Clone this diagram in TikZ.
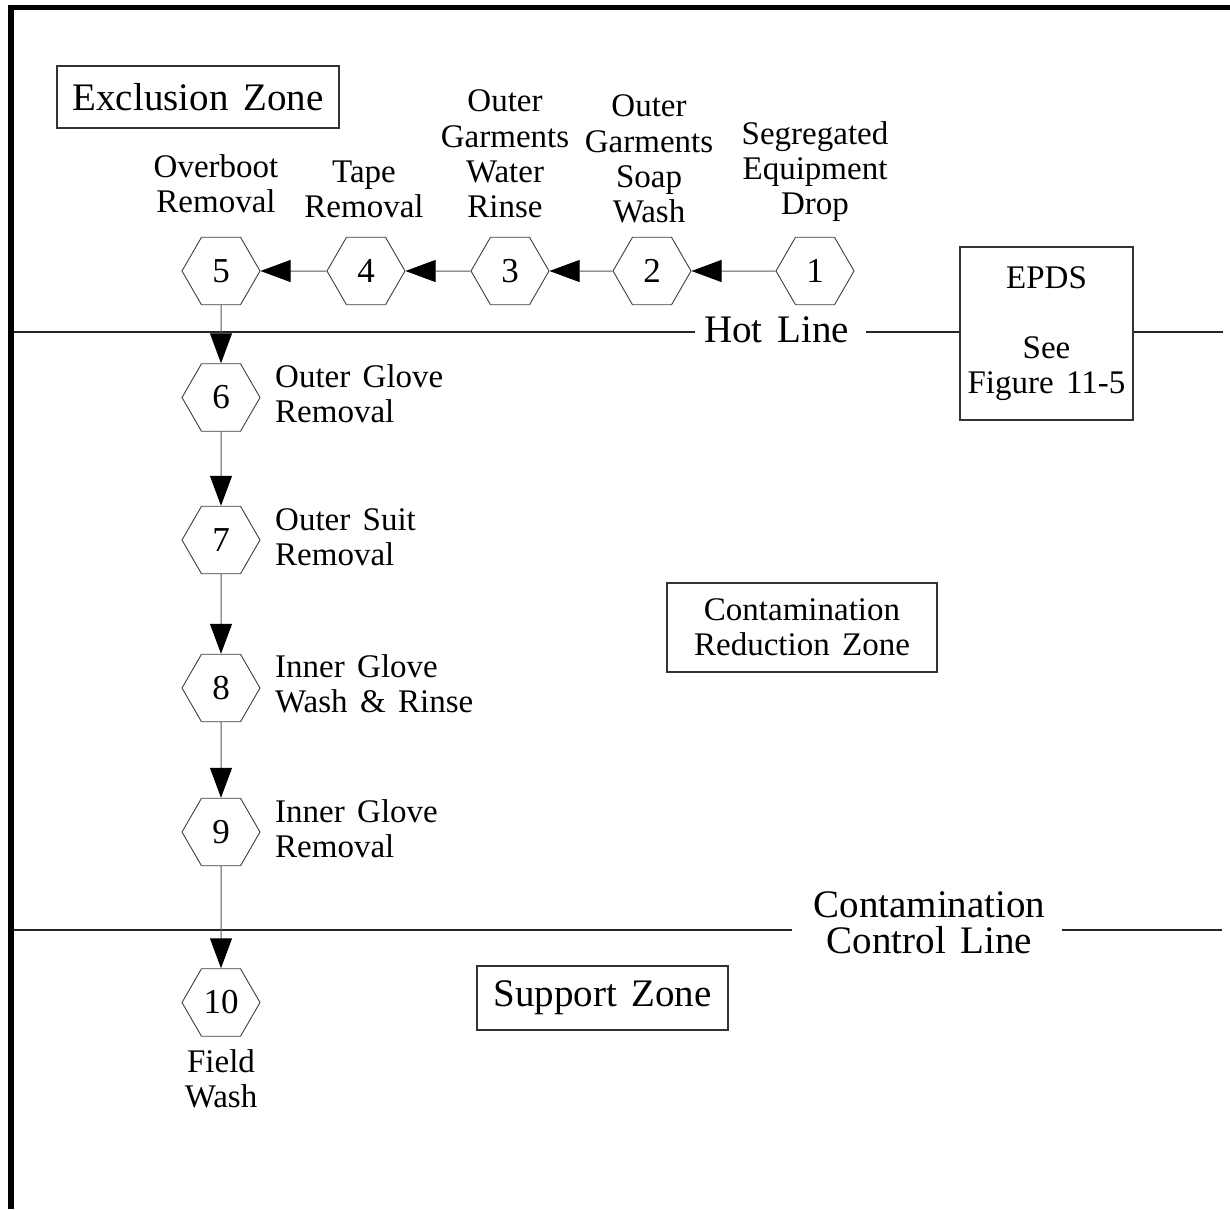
\documentclass[tikz,border=0pt]{standalone}
\usepackage{fontspec}
\setmainfont{Liberation Serif}[WordSpace=1.5]
\usetikzlibrary{shapes.geometric,arrows.meta}
\newcommand{\smallfont}{\fontsize{33}{35}\selectfont}
\newcommand{\digitfont}{\fontsize{35}{35}\selectfont}
\newcommand{\bigfont}{\fontsize{39}{36}\selectfont}
\begin{document}
\begin{tikzpicture}[x=1pt,y=-1pt,
  stepnum/.style={regular polygon, regular polygon sides=6, minimum size=78pt,
    inner sep=0pt, draw=black!75, line width=0.9pt, font=\digitfont},
  lbl/.style={inner sep=0pt, font=\smallfont, align=center, anchor=base},
  lblr/.style={inner sep=0pt, font=\smallfont, align=left, anchor=base west},
  biglbl/.style={inner sep=0pt, font=\bigfont, align=center, anchor=base},
  zone/.style={draw=black!80, line width=1.2pt, inner sep=0pt, align=center},
  flow/.style={draw=black!65, line width=1pt,
    -{Triangle[length=30pt,width=22pt,color=black]}},
  zline/.style={draw=black!85, line width=1.2pt}
]
\useasboundingbox (0,0) rectangle (1230,1209);
\fill[white] (0,0) rectangle (1230,1209);

% site boundary (top and left edges)
\draw[line width=6pt] (11,1209) -- (11,5);
\draw[line width=5pt] (8,7.5) -- (1230,7.5);

% decontamination stations
\node[stepnum] (s1) at (815,271) {1};
\node[stepnum] (s2) at (652,271) {2};
\node[stepnum] (s3) at (510,271) {3};
\node[stepnum] (s4) at (366,271) {4};
\node[stepnum] (s5) at (221,271) {5};
\node[stepnum] (s6) at (221,397.5) {6};
\node[stepnum] (s7) at (221,540) {7};
\node[stepnum] (s8) at (221,688) {8};
\node[stepnum] (s9) at (221,832) {9};
\node[stepnum] (s10) at (221,1002.5) {10};

% station labels (anchored at the baseline of their last line)
\node[lbl] (l1) at (815,214) {Segregated\\Equipment\\Drop};
\node[lbl] (l2) at (649,222) {Outer\\Garments\\Soap\\Wash};
\node[lbl] (l3) at (505,217) {Outer\\Garments\\Water\\Rinse};
\node[lbl] (l4) at (364,217) {Tape\\Removal};
\node[lbl] (l5) at (216,212) {Overboot\\Removal};
\node[lblr] (l6) at (275,422.5) {Outer Glove\\Removal};
\node[lblr] (l7) at (275,565) {Outer Suit\\Removal};
\node[lblr] (l8) at (275,712) {Inner Glove\\Wash \& Rinse};
\node[lblr] (l9) at (275,857) {Inner Glove\\Removal};
\node[lbl] (l10) at (221,1107) {Field\\Wash};

% zone captions
\node[zone, minimum width=282pt, minimum height=62pt, font=\bigfont] (ez) at (198,97) {Exclusion Zone};
\node[zone, minimum width=270pt, minimum height=89pt, font=\smallfont] (crz) at (802,627.5) {Contamination\\Reduction Zone};
\node[zone, minimum width=251pt, minimum height=64pt, font=\bigfont] (sz) at (602.5,998) {Support Zone};
\node[zone, minimum width=173pt, minimum height=173pt, font=\smallfont] (epds) at (1046.5,333.5) {EPDS\\[35pt]See\\Figure 11-5};

% hot line
\node[biglbl] (hot) at (776.5,342) {Hot Line};
\coordinate (hlL) at (14,332);
\coordinate (hlA) at (695,332);
\coordinate (hlB) at (866,332);
\coordinate (hlR) at (1223,332);
\draw[zline] (hlL) -- (hlA);
\draw[zline] (hlB) -- (hlB -| epds.west);
\draw[zline] (hlR -| epds.east) -- (hlR);

% contamination control line
\node[biglbl] (ccl) at (929.5,953) {Contamination\\Control Line};
\coordinate (clL) at (14,930);
\coordinate (clA) at (792,930);
\coordinate (clB) at (1062,930);
\coordinate (clR) at (1222,930);
\draw[zline] (clL) -- (clA);
\draw[zline] (clB) -- (clR);

% flow between stations
\draw[flow] (s1) -- (s2);
\draw[flow] (s2) -- (s3);
\draw[flow] (s3) -- (s4);
\draw[flow] (s4) -- (s5);
\draw[flow] (s5) -- (s6);
\draw[flow] (s6) -- (s7);
\draw[flow] (s7) -- (s8);
\draw[flow] (s8) -- (s9);
\draw[flow] (s9) -- (s10);
\end{tikzpicture}
\end{document}
